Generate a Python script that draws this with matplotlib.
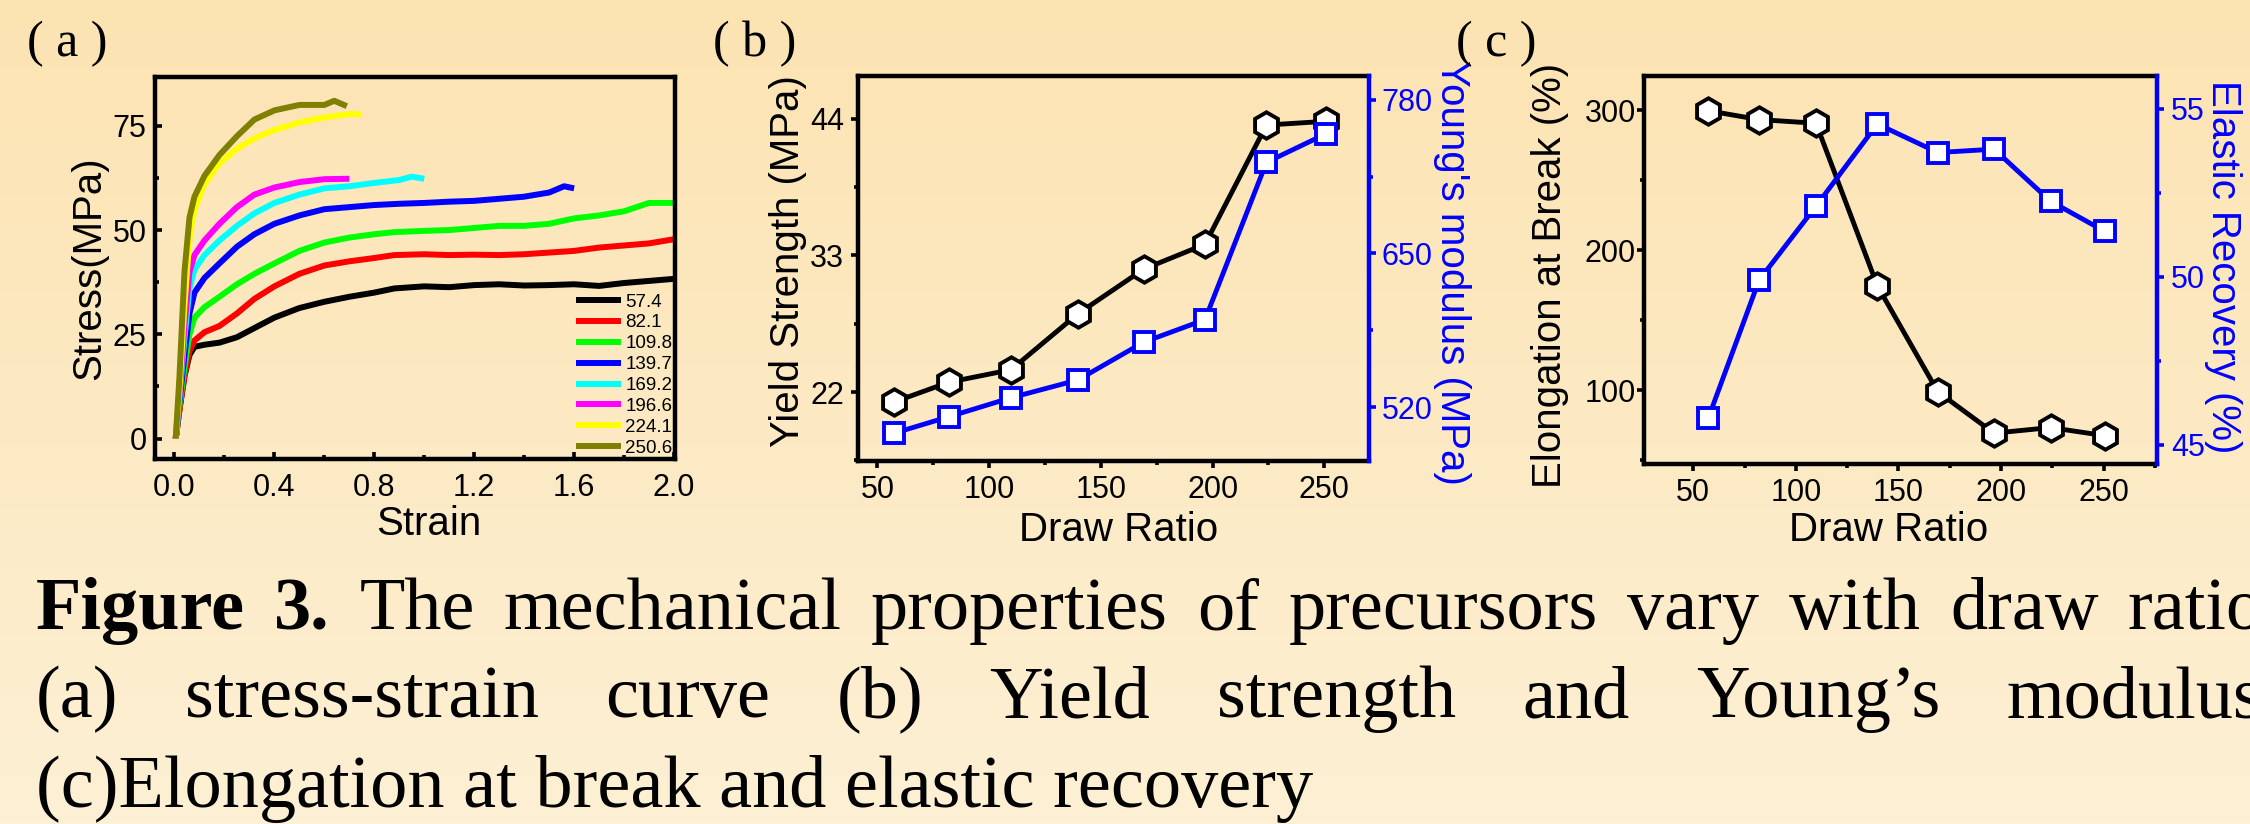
import numpy as np
import matplotlib.pyplot as plt
from matplotlib.ticker import MultipleLocator, FormatStrFormatter

# draw ratios of the precursors
draw_ratio = [57.4, 82.1, 109.8, 139.7, 169.2, 196.6, 224.1, 250.6]
curve_labels = ['57.4', '82.1', '109.8', '139.7', '169.2', '196.6', '224.1', '250.6']
curve_colors = ['#000000', '#ff0000', '#00ff00', '#0000ff', '#00ffff', '#ff00ff', '#ffff00', '#808000']

# (a) stress-strain curves
strain_long = [0.005, 0.02, 0.04, 0.06, 0.08, 0.12, 0.18, 0.25, 0.32, 0.40, 0.50, 0.60, 0.70,
               0.80, 0.88, 1.00, 1.10, 1.20, 1.30, 1.40, 1.50, 1.60, 1.70, 1.80, 1.90, 2.00]
stress_574 = [0, 7, 15, 20, 22, 22.5, 23, 24.3, 26.5, 29, 31.3, 32.8, 34, 35, 36, 36.5, 36.3,
              36.8, 37, 36.7, 36.8, 37, 36.6, 37.3, 37.8, 38.3]
stress_821 = [0, 7, 15, 21, 23.5, 25.5, 27, 30, 33.5, 36.5, 39.5, 41.5, 42.5, 43.3, 44, 44.2, 44,
              44.1, 44, 44.2, 44.6, 45, 45.8, 46.3, 46.8, 47.8]
stress_1098 = [0, 8, 17, 25, 29, 31.5, 34, 37, 39.5, 42, 45, 47, 48.2, 49, 49.5, 49.8, 50, 50.5,
               51, 51, 51.5, 52.8, 53.5, 54.5, 56.5, 56.5]
strain_1397 = [0.005, 0.02, 0.04, 0.06, 0.08, 0.12, 0.18, 0.25, 0.32, 0.40, 0.50, 0.60, 0.70,
               0.80, 0.90, 1.00, 1.10, 1.20, 1.30, 1.40, 1.50, 1.56, 1.60]
stress_1397 = [0, 9, 20, 30, 35, 38.5, 42, 46, 49, 51.5, 53.5, 55, 55.5, 56, 56.3, 56.5, 56.8,
               57, 57.5, 58, 59, 60.5, 60]
strain_1692 = [0.005, 0.02, 0.04, 0.06, 0.08, 0.12, 0.18, 0.25, 0.32, 0.40, 0.50, 0.60, 0.70,
               0.80, 0.90, 0.95, 1.00]
stress_1692 = [0, 10, 24, 36, 40.5, 44, 47.5, 51, 54, 56.5, 58.5, 60, 60.5, 61.3, 62, 62.8, 62.3]
strain_1966 = [0.005, 0.02, 0.04, 0.06, 0.08, 0.12, 0.18, 0.25, 0.32, 0.40, 0.50, 0.60, 0.70]
stress_1966 = [0, 11, 27, 40, 44, 47.5, 51.5, 55.5, 58.5, 60.2, 61.5, 62.2, 62.3]
strain_2241 = [0.005, 0.02, 0.04, 0.06, 0.08, 0.12, 0.18, 0.25, 0.32, 0.40, 0.50, 0.60, 0.70, 0.75]
stress_2241 = [0, 12, 32, 48, 55, 61, 66, 69.5, 72, 74, 75.8, 77, 77.8, 77.8]
strain_2506 = [0.005, 0.02, 0.04, 0.06, 0.08, 0.12, 0.18, 0.25, 0.32, 0.40, 0.50, 0.60, 0.64, 0.69]
stress_2506 = [0, 15, 40, 53, 58, 63, 68, 72.5, 76.5, 78.7, 80, 80, 81, 79.7]

# (b) yield strength (MPa) and Young's modulus (MPa)
yield_strength = [21.2, 22.8, 23.8, 28.3, 31.9, 33.9, 43.5, 43.8]
youngs_modulus = [498, 512, 528, 543, 575, 594, 727, 751]

# (c) elongation at break (%) and elastic recovery (%)
elongation = [299.5, 293.2, 290.6, 174.7, 99.0, 69.5, 73.5, 67.7]
elastic_recovery = [45.8, 49.9, 52.1, 54.55, 53.7, 53.8, 52.25, 51.35]

W, H = 2250, 824
plt.rcParams['font.family'] = ['Liberation Sans', 'DejaVu Sans']
serif = ['Liberation Serif', 'DejaVu Serif']

fig = plt.figure(figsize=(W / 100, H / 100), dpi=100)

# background gradient
bg = fig.add_axes([0, 0, 1, 1], zorder=-10)
top = np.array([252, 227, 178]) / 255
bottom = np.array([253, 240, 212]) / 255
t = np.linspace(0, 1, 200)[:, None]
grad = (top * (1 - t) + bottom * t)[:, None, :]
bg.imshow(grad, aspect='auto', extent=[0, 1, 0, 1])
bg.axis('off')

SPINE = 3.2
TICK_FS = 22
LABEL_FS = 29


def style(ax, direction):
    for s in ax.spines.values():
        s.set_linewidth(SPINE)
    ax.tick_params(which='major', direction=direction, length=5, width=2.6, labelsize=TICK_FS)
    ax.tick_params(which='minor', direction=direction, length=3, width=2.6)
    ax.set_facecolor('none')


# ---------------- (a) stress-strain ----------------
ax_a = fig.add_axes([155 / W, 1 - 459 / H, 520 / W, 382 / H])
style(ax_a, 'in')
curves = [(strain_long, stress_574), (strain_long, stress_821), (strain_long, stress_1098),
          (strain_1397, stress_1397), (strain_1692, stress_1692), (strain_1966, stress_1966),
          (strain_2241, stress_2241), (strain_2506, stress_2506)]
for (x, y), c, lab in zip(curves, curve_colors, curve_labels):
    ax_a.plot(x, y, color=c, lw=4.3, label=lab, solid_capstyle='butt')
ax_a.set_xlim(-0.078, 2.004)
ax_a.set_ylim(-4.9, 86.7)
ax_a.xaxis.set_major_locator(MultipleLocator(0.4))
ax_a.xaxis.set_minor_locator(MultipleLocator(0.2))
ax_a.xaxis.set_major_formatter(FormatStrFormatter('%.1f'))
ax_a.yaxis.set_major_locator(MultipleLocator(25))
ax_a.yaxis.set_minor_locator(MultipleLocator(12.5))
ax_a.tick_params(axis='x', pad=10)
ax_a.tick_params(axis='y', pad=6)
ax_a.set_xlabel('Strain', fontsize=LABEL_FS)
ax_a.set_ylabel('Stress(MPa)', fontsize=LABEL_FS)
ax_a.xaxis.set_label_coords(0.527, -0.12)
ax_a.yaxis.set_label_coords(-0.09, 0.5)
ax_a.legend(loc='lower right', bbox_to_anchor=(0.995, 0.006), frameon=False, fontsize=13.5,
            handlelength=2.4, handletextpad=0.2, labelspacing=0.2, borderaxespad=0,
            borderpad=0)

# ---------------- (b) yield strength / Young's modulus ----------------
ax_b = fig.add_axes([858 / W, 1 - 461 / H, 511 / W, 385 / H])
style(ax_b, 'out')
ax_b.spines['right'].set_visible(False)
ax_b.plot(draw_ratio, yield_strength, '-', color='black', lw=3.5, marker='h', ms=19,
          mfc='white', mec='black', mew=2.8, zorder=3)
ax_b.set_xlim(41.3, 270)
ax_b.set_ylim(16.45, 47.45)
ax_b.xaxis.set_major_locator(MultipleLocator(50))
ax_b.xaxis.set_minor_locator(MultipleLocator(25))
ax_b.yaxis.set_major_locator(MultipleLocator(11))
ax_b.yaxis.set_minor_locator(MultipleLocator(5.5))
ax_b.tick_params(axis='both', which='both', top=False)
ax_b.tick_params(axis='x', pad=5)
ax_b.tick_params(axis='y', pad=5)
ax_b.set_xlabel('Draw Ratio', fontsize=LABEL_FS)
ax_b.set_ylabel('Yield Strength (MPa)', fontsize=LABEL_FS)
ax_b.xaxis.set_label_coords(0.51, -0.13)
ax_b.yaxis.set_label_coords(-0.10, 0.52)

ax_b2 = ax_b.twinx()
style(ax_b2, 'out')
for side in ['left', 'top', 'bottom']:
    ax_b2.spines[side].set_visible(False)
ax_b2.spines['right'].set_color('blue')
ax_b2.plot(draw_ratio, youngs_modulus, '-', color='blue', lw=3.5, marker='s', ms=15,
           mfc='white', mec='blue', mew=2.8)
ax_b2.set_ylim(474.5, 800)
ax_b2.yaxis.set_major_locator(MultipleLocator(130))
ax_b2.yaxis.set_minor_locator(MultipleLocator(65))
ax_b2.tick_params(axis='y', which='both', colors='blue', pad=4)
ax_b2.set_ylabel("Young's modulus (MPa)", fontsize=LABEL_FS, color='blue', rotation=-90,
                 va='bottom')
ax_b2.yaxis.set_label_coords(1.125, 0.49)

# ---------------- (c) elongation / elastic recovery ----------------
ax_c = fig.add_axes([1644 / W, 1 - 464 / H, 513 / W, 388 / H])
style(ax_c, 'out')
ax_c.spines['right'].set_visible(False)
ax_c.plot(draw_ratio, elongation, '-', color='black', lw=3.5, marker='h', ms=19,
          mfc='white', mec='black', mew=2.8, zorder=3)
ax_c.set_xlim(26, 276)
ax_c.set_ylim(47.5, 324.3)
ax_c.xaxis.set_major_locator(MultipleLocator(50))
ax_c.xaxis.set_minor_locator(MultipleLocator(25))
ax_c.yaxis.set_major_locator(MultipleLocator(100))
ax_c.yaxis.set_minor_locator(MultipleLocator(50))
ax_c.tick_params(axis='both', which='both', top=False)
ax_c.tick_params(axis='x', pad=5)
ax_c.tick_params(axis='y', pad=1)
ax_c.set_xlabel('Draw Ratio', fontsize=LABEL_FS)
ax_c.set_ylabel('Elongation at Break (%)', fontsize=LABEL_FS)
ax_c.xaxis.set_label_coords(0.476, -0.121)
ax_c.yaxis.set_label_coords(-0.146, 0.487)

ax_c2 = ax_c.twinx()
style(ax_c2, 'out')
for side in ['left', 'top', 'bottom']:
    ax_c2.spines[side].set_visible(False)
ax_c2.spines['right'].set_color('blue')
ax_c2.plot(draw_ratio, elastic_recovery, '-', color='blue', lw=3.5, marker='s', ms=15,
           mfc='white', mec='blue', mew=2.8)
ax_c2.set_ylim(44.42, 55.98)
ax_c2.yaxis.set_major_locator(MultipleLocator(5))
ax_c2.yaxis.set_minor_locator(MultipleLocator(2.5))
ax_c2.tick_params(axis='y', which='both', colors='blue', pad=5)
ax_c2.set_ylabel('Elastic Recovery (%)', fontsize=LABEL_FS, color='blue', rotation=-90,
                 va='bottom')
ax_c2.yaxis.set_label_coords(1.092, 0.508)

# panel letters
for x0, letter in [(27, 'a'), (713, 'b'), (1456, 'c')]:
    fig.text(x0 / W, 1 - 44 / H, '( %s )' % letter, family=serif, fontsize=36, va='center')

# caption
CAP_FS = 53.5


def justified(words, bold, x0, x1, ybase):
    texts = [fig.text(x0 / W, 1 - ybase / H, w, family=serif, fontsize=CAP_FS,
                      fontweight='bold' if b else 'normal', va='baseline')
             for w, b in zip(words, bold)]
    renderer = fig.canvas.get_renderer()
    widths = [tx.get_window_extent(renderer).width for tx in texts]
    gap = (x1 - x0 - sum(widths)) / (len(words) - 1)
    x = x0
    for tx, w in zip(texts, widths):
        tx.set_x(x / W)
        x += w + gap


line1 = ['Figure', '3.', 'The', 'mechanical', 'properties', 'of', 'precursors', 'vary',
         'with', 'draw', 'ratio']
justified(line1, [True, True] + [False] * 9, 36, 2264, 629)
line2 = ['(a)', 'stress-strain', 'curve', '(b)', 'Yield', 'strength', 'and', 'Young\u2019s',
         'modulus']
justified(line2, [False] * 9, 36, 2262, 717)
fig.text(36 / W, 1 - 807 / H, '(c)Elongation at break and elastic recovery', family=serif,
         fontsize=CAP_FS, va='baseline')

fig.savefig('out.png', dpi=100)
